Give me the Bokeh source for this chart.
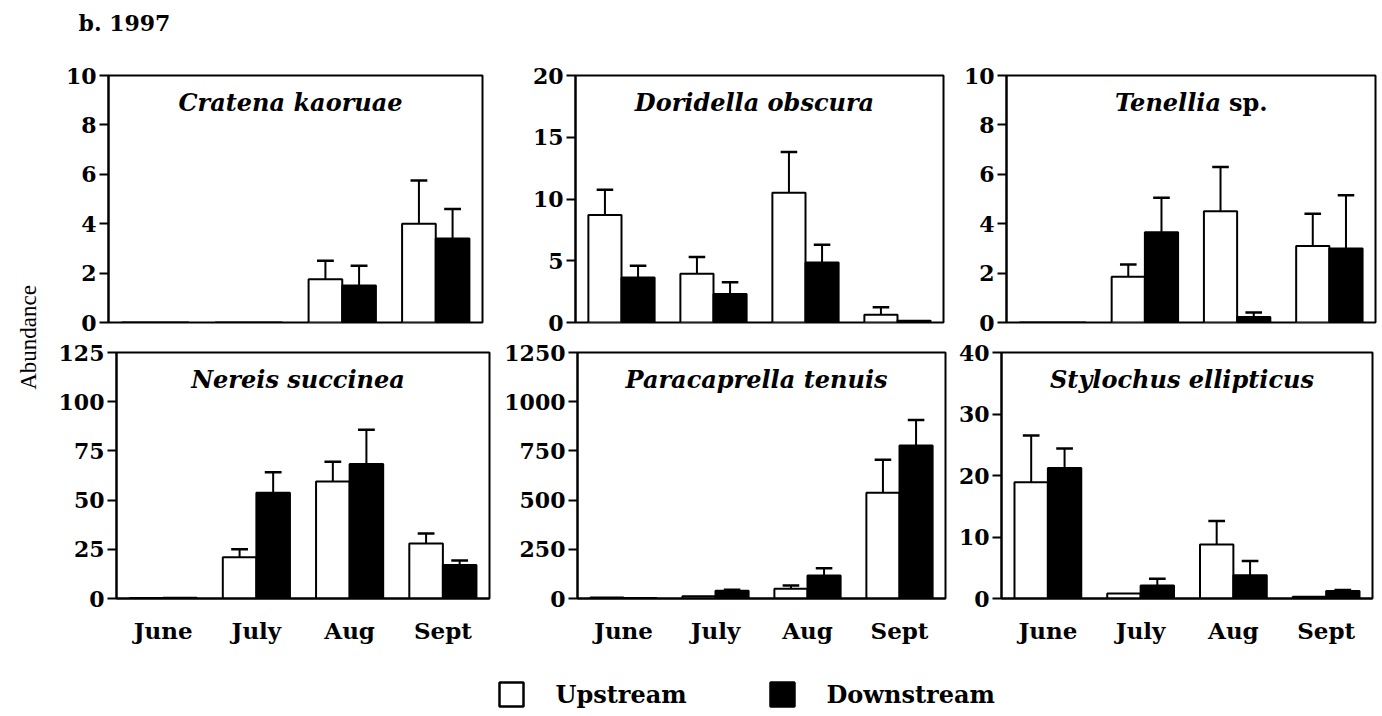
import math
from bokeh.plotting import figure
from bokeh.layouts import row, column
from bokeh.models import Range1d, FixedTicker
from bokeh.core.properties import value
from bokeh.embed import file_html
from bokeh.resources import INLINE

# ---------------- data ----------------
months = ["June", "July", "Aug", "Sept"]

cratena_up = [0, 0, 1.75, 4.0]
cratena_up_se = [0, 0, 0.75, 1.75]
cratena_down = [0, 0, 1.5, 3.4]
cratena_down_se = [0, 0, 0.8, 1.2]

doridella_up = [8.7, 3.95, 10.5, 0.62]
doridella_up_se = [2.05, 1.35, 3.3, 0.62]
doridella_down = [3.65, 2.3, 4.85, 0.15]
doridella_down_se = [0.95, 0.95, 1.45, 0]

tenellia_up = [0, 1.85, 4.5, 3.1]
tenellia_up_se = [0, 0.5, 1.8, 1.3]
tenellia_down = [0, 3.65, 0.22, 3.0]
tenellia_down_se = [0, 1.4, 0.18, 2.15]

nereis_up = [0.3, 21, 59.5, 28]
nereis_up_se = [0, 4, 10, 5]
nereis_down = [0.4, 53.7, 68.4, 17]
nereis_down_se = [0, 10.5, 17.3, 2.3]

paracaprella_up = [5, 12, 49, 537]
paracaprella_up_se = [0, 0, 17, 168]
paracaprella_down = [2, 40, 117, 777]
paracaprella_down_se = [0, 5, 37, 130]

stylochus_up = [18.9, 0.8, 8.8, 0.3]
stylochus_up_se = [7.6, 0, 3.8, 0]
stylochus_down = [21.2, 2.1, 3.8, 1.2]
stylochus_down_se = [3.2, 1.1, 2.3, 0.2]

y_max = [10, 20, 10, 125, 1250, 40]
y_ticks = [[0, 2, 4, 6, 8, 10], [0, 5, 10, 15, 20], [0, 2, 4, 6, 8, 10],
           [0, 25, 50, 75, 100, 125], [0, 250, 500, 750, 1000, 1250],
           [0, 10, 20, 30, 40]]

panel_title = ["Cratena kaoruae", "Doridella obscura", "Tenellia", "Nereis succinea",
               "Paracaprella tenuis", "Stylochus ellipticus"]

legend_labels = ["Upstream", "Downstream"]
header_text = "b. 1997"
ylabel_text = "Abundance"

SERIF = "DejaVu Serif"
BW = 0.36

panels = [
    (cratena_up, cratena_up_se, cratena_down, cratena_down_se),
    (doridella_up, doridella_up_se, doridella_down, doridella_down_se),
    (tenellia_up, tenellia_up_se, tenellia_down, tenellia_down_se),
    (nereis_up, nereis_up_se, nereis_down, nereis_down_se),
    (paracaprella_up, paracaprella_up_se, paracaprella_down, paracaprella_down_se),
    (stylochus_up, stylochus_up_se, stylochus_down, stylochus_down_se),
]

# border sizes (left, frame width, right) and (top, frame height, bottom)
hsizes = [(63, 374, 18), (75, 368, 7), (56, 369, 7),
          (71, 373, 5), (83, 368, 5), (51, 371, 10)]
vtop = (35, 247, 13)
vbot = (17, 246, 55)


def make_panel(i):
    up, up_se, dn, dn_se = panels[i]
    l, fw, r = hsizes[i]
    t, fh, b = vtop if i < 3 else vbot
    bottom_row = i >= 3
    p = figure(width=l + fw + r, height=t + fh + b, output_backend="svg",
               toolbar_location=None, title=None,
               x_range=Range1d(-0.5, 3.5), y_range=Range1d(0, y_max[i]),
               x_axis_type="linear" if bottom_row else None,
               min_border_left=l, min_border_right=r,
               min_border_top=t, min_border_bottom=b)
    p.background_fill_color = "white"
    p.border_fill_color = "white"
    p.outline_line_color = "black"
    p.outline_line_width = 2
    p.grid.visible = False

    xs = list(range(len(months)))
    xu = [x - BW / 2 for x in xs]
    xd = [x + BW / 2 for x in xs]

    # error bars (upper only)
    for xc, v, se in ((xu, up, up_se), (xd, dn, dn_se)):
        ex = [xc[k] for k in range(len(v)) if se[k] > 0]
        y0 = [v[k] for k in range(len(v)) if se[k] > 0]
        y1 = [v[k] + se[k] for k in range(len(v)) if se[k] > 0]
        if ex:
            p.segment(x0=ex, y0=y0, x1=ex, y1=y1, line_color="black", line_width=2)
            p.segment(x0=[x - 0.09 for x in ex], y0=y1, x1=[x + 0.09 for x in ex], y1=y1,
                      line_color="black", line_width=2.5)

    p.vbar(x=xu, width=BW, top=up, bottom=0, fill_color="white",
           line_color="black", line_width=2)
    p.vbar(x=xd, width=BW, top=dn, bottom=0, fill_color="black",
           line_color="black", line_width=2)

    # title inside frame
    ty = y_max[i] * (1 - 27.0 / fh)
    if i == 2:
        p.text(x=[1.5], y=[ty], text=[panel_title[i]], text_align="right",
               text_baseline="middle", x_offset=30,
               text_font=value(SERIF), text_font_style="bold italic",
               text_font_size="24px", text_color="black")
        p.text(x=[1.5], y=[ty], text=["sp."], text_align="left",
               text_baseline="middle", x_offset=38,
               text_font=value(SERIF), text_font_style="bold",
               text_font_size="24px", text_color="black")
    else:
        p.text(x=[1.5], y=[ty], text=[panel_title[i]], text_align="center",
               text_baseline="middle", x_offset=-5,
               text_font=value(SERIF), text_font_style="bold italic",
               text_font_size="24px", text_color="black")

    ya = p.yaxis[0]
    ya.ticker = FixedTicker(ticks=y_ticks[i])
    ya.minor_tick_line_color = None
    ya.major_tick_in = 0
    ya.major_tick_out = 9
    ya.major_tick_line_width = 2
    ya.axis_line_width = 2
    ya.major_label_standoff = 3
    ya.major_label_text_font = SERIF
    ya.major_label_text_font_style = "bold"
    ya.major_label_text_font_size = "22px"
    ya.major_label_text_color = "black"

    if bottom_row:
        xa = p.xaxis[0]
        xa.ticker = FixedTicker(ticks=xs)
        xa.major_label_overrides = {k: months[k] for k in xs}
        xa.minor_tick_line_color = None
        xa.major_tick_line_color = None
        xa.major_tick_in = 0
        xa.major_tick_out = 0
        xa.axis_line_width = 2
        xa.major_label_standoff = 18
        xa.major_label_text_font = SERIF
        xa.major_label_text_font_style = "bold"
        xa.major_label_text_font_size = "23px"
        xa.major_label_text_color = "black"
    return p


figs = [make_panel(i) for i in range(6)]


def blank(w, h):
    p = figure(width=w, height=h, output_backend="svg", toolbar_location=None,
               title=None, x_range=Range1d(0, w), y_range=Range1d(0, h),
               x_axis_type=None, y_axis_type=None,
               min_border=0, min_border_left=0, min_border_right=0,
               min_border_top=0, min_border_bottom=0)
    p.outline_line_color = None
    p.grid.visible = False
    p.background_fill_color = "white"
    p.border_fill_color = "white"
    return p


header = blank(1382, 40)
header.text(x=[78], y=[18], text=[header_text], text_align="left",
            text_baseline="middle", text_font=value(SERIF), text_font_style="bold",
            text_font_size="22px", text_color="black")

rows_h = sum(vtop) + sum(vbot)
labelfig = blank(45, rows_h)
labelfig.text(x=[28], y=[rows_h - 297], text=[ylabel_text], angle=math.pi / 2,
              text_align="center", text_baseline="middle",
              text_font=value("Liberation Serif"), text_font_size="23px",
              text_color="black")

legfig = blank(1382, 63)
legfig.rect(x=[511, 782], y=[22, 22], width=24, height=24,
            width_units="screen", height_units="screen",
            fill_color=["white", "black"], line_color="black", line_width=2.5)
legfig.text(x=[555, 826], y=[22, 22], text=legend_labels, text_align="left",
            text_baseline="middle", text_font=value(SERIF), text_font_style="bold",
            text_font_size="24px", text_color="black")

layout = column(header,
                row(labelfig, column(row(figs[0], figs[1], figs[2]),
                                     row(figs[3], figs[4], figs[5]))),
                legfig)

open("out.html", "w").write(file_html(layout, INLINE))
